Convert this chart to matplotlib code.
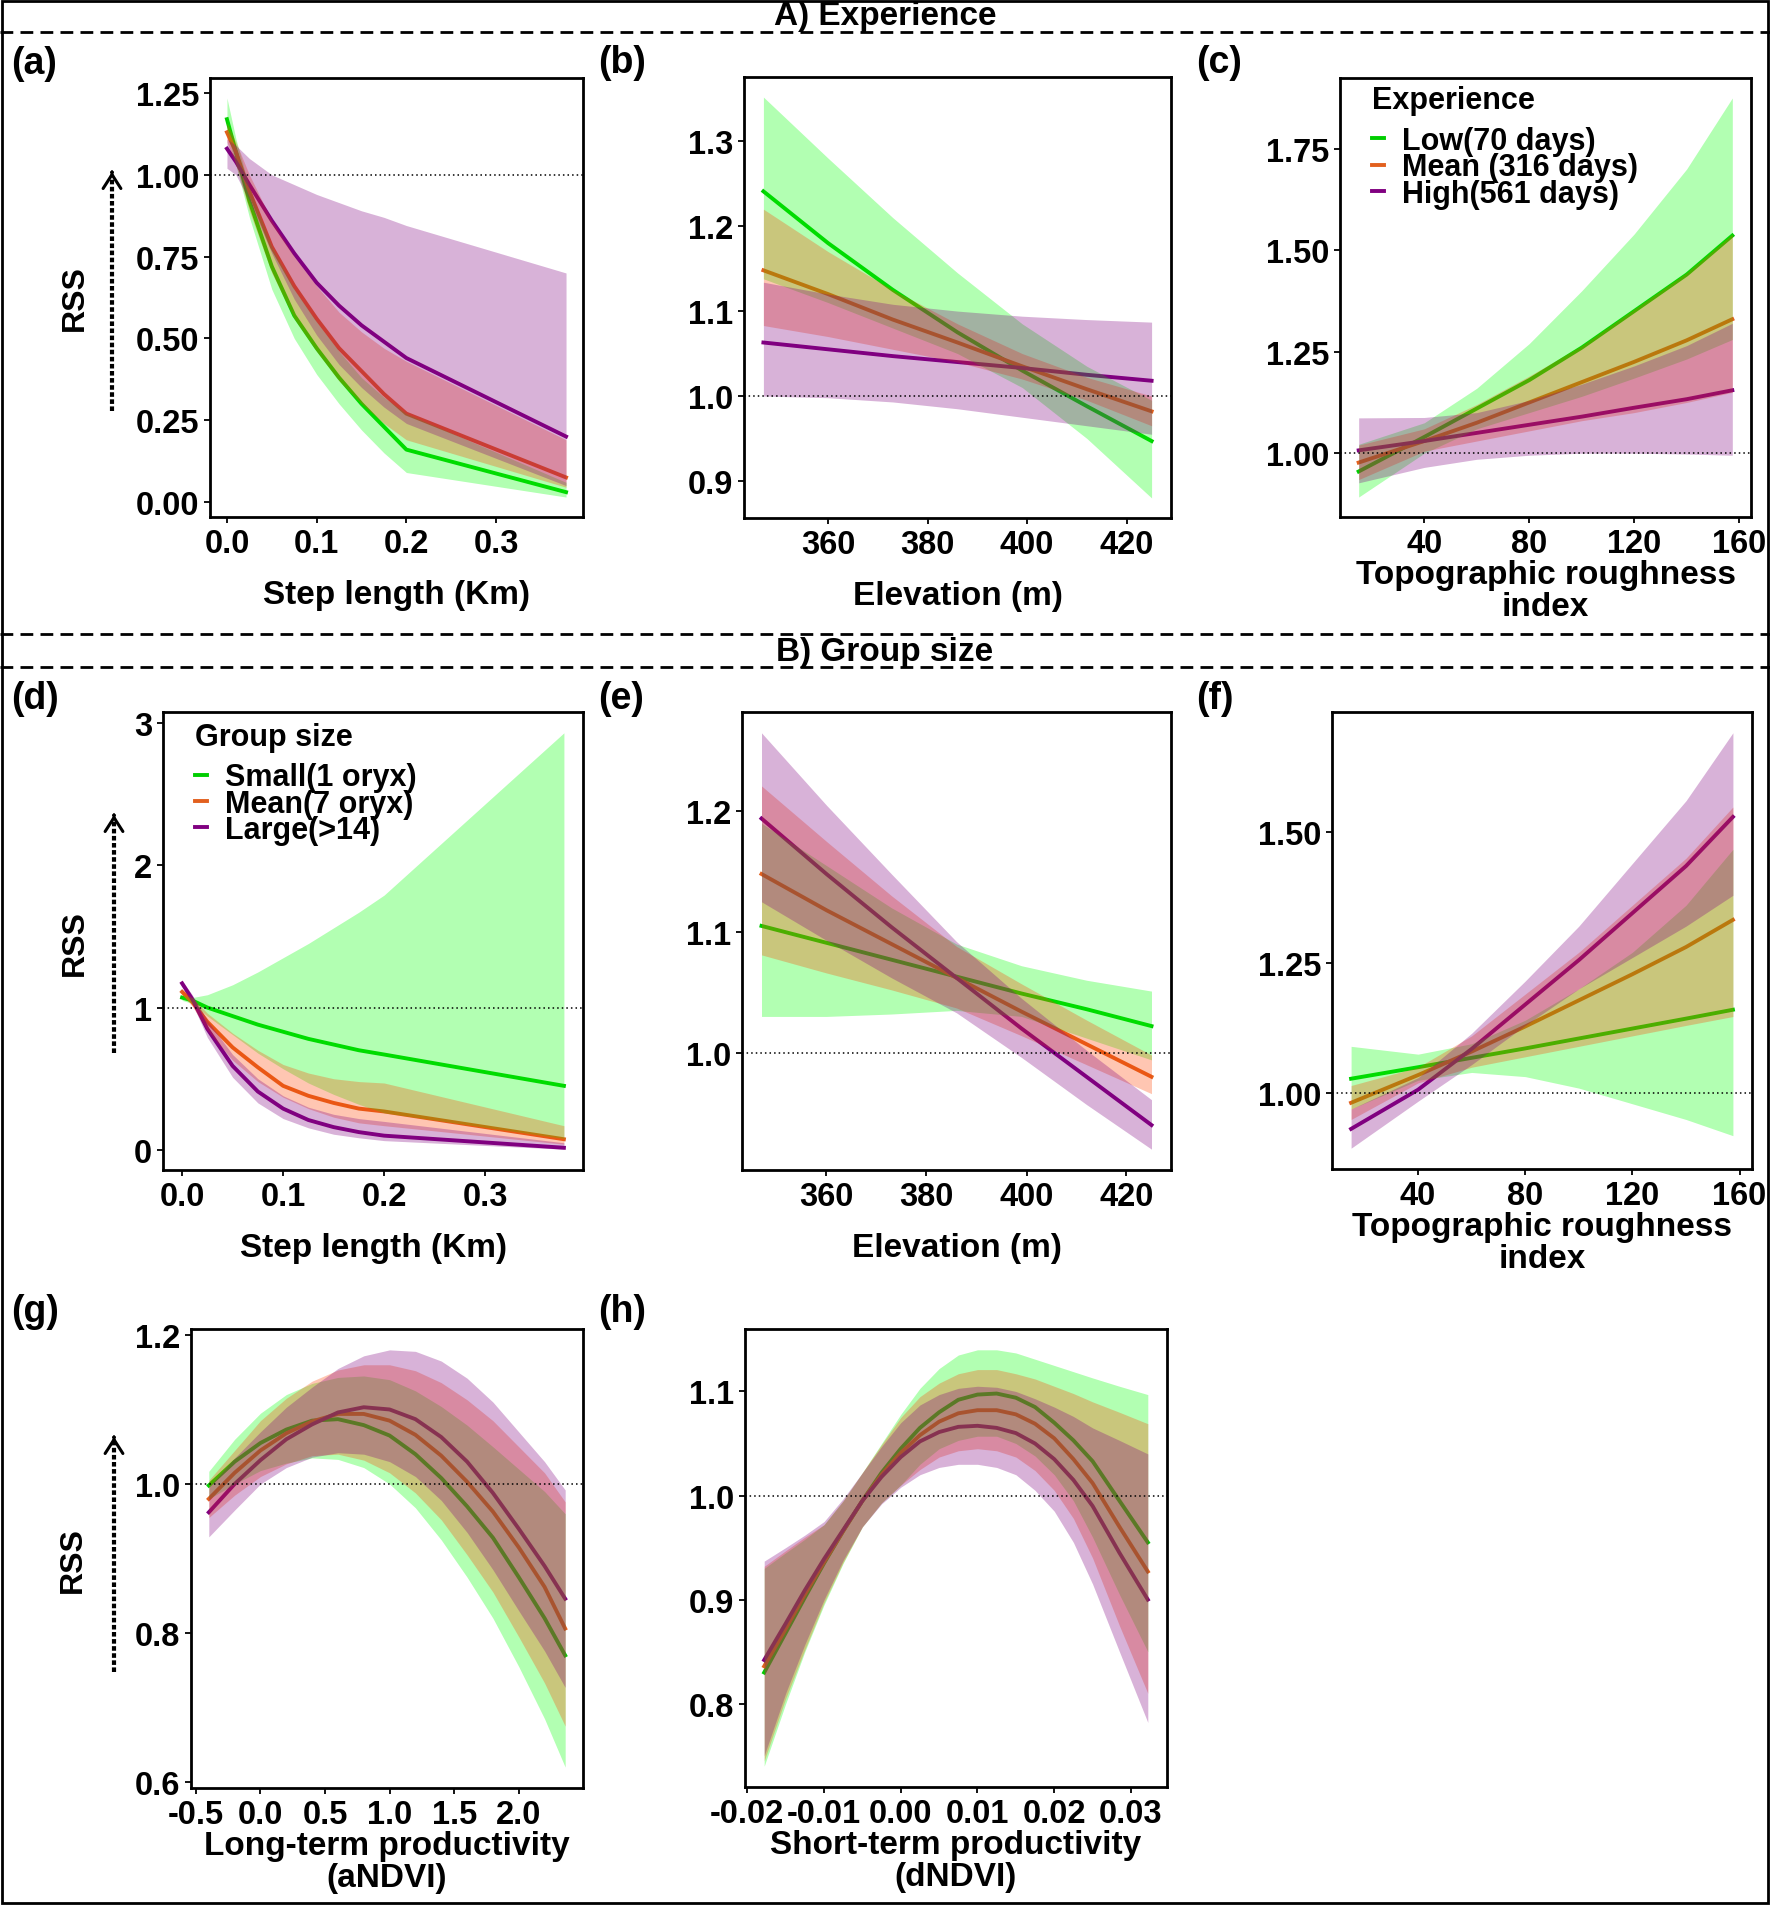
import matplotlib
matplotlib.use('Agg')
import matplotlib.pyplot as plt
from matplotlib.lines import Line2D
from matplotlib.patches import Rectangle, FancyArrowPatch
from matplotlib.ticker import FixedLocator, FormatStrFormatter

plt.rcParams['font.family'] = ['Liberation Sans', 'DejaVu Sans']
plt.rcParams['font.weight'] = 'bold'
plt.rcParams['axes.labelweight'] = 'bold'
plt.rcParams['axes.unicode_minus'] = False

W, H = 1770, 1906

line_cols = ['#00CD00', '#E2601E', '#800080']
fill_cols = ['#00FF00', '#FF4500', '#800080']
exp_labels = ['Low(70 days)', 'Mean (316 days)', 'High(561 days)']
grp_labels = ['Small(1 oryx)', 'Mean(7 oryx)', 'Large(>14)']

# (a) step length vs experience  (rows: low, mean, high)
a_x = [0, 0.01, 0.025, 0.05, 0.075, 0.1, 0.125, 0.15, 0.175, 0.2, 0.378]
a_fit = [[1.17, 1.07, 0.92, 0.72, 0.57, 0.47, 0.38, 0.30, 0.23, 0.16, 0.03],
         [1.13, 1.07, 0.95, 0.78, 0.66, 0.56, 0.47, 0.40, 0.33, 0.27, 0.075],
         [1.08, 1.04, 0.97, 0.86, 0.76, 0.67, 0.60, 0.54, 0.49, 0.44, 0.20]]
a_lo = [[1.13, 1.03, 0.87, 0.65, 0.50, 0.39, 0.30, 0.22, 0.15, 0.09, 0.015],
        [1.10, 1.03, 0.89, 0.70, 0.56, 0.46, 0.37, 0.30, 0.24, 0.19, 0.045],
        [1.02, 1.0, 0.92, 0.76, 0.62, 0.51, 0.42, 0.35, 0.29, 0.24, 0.05]]
a_hi = [[1.235, 1.11, 0.96, 0.78, 0.65, 0.55, 0.46, 0.38, 0.32, 0.27, 0.06],
        [1.16, 1.10, 1.0, 0.86, 0.75, 0.66, 0.58, 0.52, 0.47, 0.43, 0.19],
        [1.11, 1.09, 1.05, 1.0, 0.97, 0.94, 0.915, 0.89, 0.87, 0.845, 0.70]]

# (b) elevation vs experience
b_x = [347, 360, 373, 386, 399, 412, 425]
b_fit = [[1.241, 1.18, 1.125, 1.075, 1.03, 0.988, 0.947],
         [1.148, 1.12, 1.09, 1.063, 1.035, 1.008, 0.982],
         [1.063, 1.055, 1.047, 1.04, 1.033, 1.025, 1.018]]
b_lo = [[1.138, 1.11, 1.08, 1.05, 1.01, 0.95, 0.88],
        [1.083, 1.07, 1.055, 1.04, 1.02, 0.995, 0.965],
        [1.0, 0.998, 0.993, 0.985, 0.975, 0.965, 0.955]]
b_hi = [[1.352, 1.28, 1.21, 1.145, 1.085, 1.035, 0.995],
        [1.22, 1.17, 1.125, 1.085, 1.05, 1.022, 1.0],
        [1.134, 1.12, 1.108, 1.1, 1.094, 1.09, 1.087]]

# (c) roughness vs experience
c_x = [15, 40, 60, 80, 100, 120, 140, 157.4]
c_fit = [[0.955, 1.04, 1.11, 1.18, 1.26, 1.35, 1.44, 1.536],
         [0.977, 1.03, 1.075, 1.125, 1.175, 1.225, 1.278, 1.33],
         [1.007, 1.03, 1.05, 1.07, 1.09, 1.112, 1.133, 1.155]]
c_lo = [[0.892, 1.0, 1.06, 1.10, 1.14, 1.185, 1.232, 1.28],
        [0.935, 1.005, 1.03, 1.055, 1.08, 1.10, 1.125, 1.15],
        [0.927, 0.965, 0.985, 0.995, 1.0, 1.0, 0.998, 0.995]]
c_hi = [[1.022, 1.075, 1.16, 1.27, 1.40, 1.54, 1.70, 1.875],
        [1.02, 1.06, 1.12, 1.19, 1.265, 1.355, 1.445, 1.54],
        [1.087, 1.088, 1.10, 1.13, 1.17, 1.215, 1.265, 1.32]]

# (d) step length vs group size  (rows: small, mean, large)
d_x = [0, 0.01, 0.025, 0.05, 0.075, 0.1, 0.125, 0.15, 0.175, 0.2, 0.378]
d_fit = [[1.07, 1.05, 1.0, 0.94, 0.88, 0.83, 0.78, 0.74, 0.70, 0.67, 0.45],
         [1.11, 1.04, 0.90, 0.72, 0.58, 0.45, 0.38, 0.33, 0.29, 0.27, 0.075],
         [1.17, 1.06, 0.85, 0.59, 0.41, 0.29, 0.21, 0.16, 0.125, 0.10, 0.015]]
d_lo = [[1.05, 1.03, 0.94, 0.81, 0.68, 0.57, 0.47, 0.39, 0.32, 0.26, 0.08],
        [1.09, 1.01, 0.84, 0.63, 0.48, 0.37, 0.29, 0.23, 0.19, 0.17, 0.04],
        [1.15, 1.03, 0.79, 0.51, 0.33, 0.22, 0.155, 0.11, 0.085, 0.065, 0.005]]
d_hi = [[1.09, 1.07, 1.09, 1.16, 1.25, 1.35, 1.45, 1.56, 1.67, 1.79, 2.93],
        [1.13, 1.07, 0.96, 0.82, 0.70, 0.60, 0.54, 0.50, 0.48, 0.47, 0.17],
        [1.19, 1.09, 0.91, 0.67, 0.50, 0.38, 0.30, 0.25, 0.22, 0.20, 0.05]]

# (e) elevation vs group size
e_x = [347, 360, 373, 386, 399, 412, 425]
e_fit = [[1.105, 1.091, 1.077, 1.063, 1.049, 1.036, 1.022],
         [1.148, 1.118, 1.09, 1.062, 1.034, 1.007, 0.98],
         [1.194, 1.148, 1.104, 1.062, 1.02, 0.98, 0.94]]
e_lo = [[1.03, 1.03, 1.032, 1.035, 1.03, 1.012, 0.994],
        [1.081, 1.066, 1.052, 1.037, 1.014, 0.99, 0.966],
        [1.125, 1.093, 1.062, 1.033, 0.996, 0.957, 0.92]]
e_hi = [[1.19, 1.155, 1.12, 1.09, 1.072, 1.06, 1.051],
        [1.221, 1.175, 1.13, 1.088, 1.057, 1.027, 0.998],
        [1.265, 1.205, 1.148, 1.092, 1.045, 1.002, 0.961]]

# (f) roughness vs group size
f_x = [15, 40, 60, 80, 100, 120, 140, 157.5]
f_fit = [[1.028, 1.05, 1.068, 1.086, 1.105, 1.124, 1.143, 1.16],
         [0.982, 1.035, 1.08, 1.128, 1.178, 1.228, 1.28, 1.332],
         [0.932, 1.007, 1.085, 1.17, 1.255, 1.345, 1.435, 1.529]]
f_lo = [[0.97, 1.025, 1.04, 1.032, 1.01, 0.98, 0.95, 0.919],
        [0.95, 1.02, 1.05, 1.07, 1.09, 1.11, 1.13, 1.147],
        [0.895, 0.985, 1.055, 1.13, 1.20, 1.26, 1.32, 1.379]]
f_hi = [[1.09, 1.075, 1.095, 1.14, 1.2, 1.27, 1.36, 1.467],
        [1.015, 1.05, 1.11, 1.19, 1.27, 1.36, 1.45, 1.548],
        [0.97, 1.03, 1.115, 1.215, 1.32, 1.44, 1.56, 1.69]]

# (g) aNDVI vs group size
g_x = [-0.4, -0.2, 0.0, 0.2, 0.4, 0.6, 0.8, 1.0, 1.2, 1.4, 1.6, 1.8, 2.0, 2.2, 2.36]
g_fit = [[0.998, 1.03, 1.055, 1.073, 1.085, 1.087, 1.079, 1.065, 1.04, 1.008, 0.97, 0.928, 0.875, 0.82, 0.77],
         [0.98, 1.015, 1.045, 1.068, 1.084, 1.094, 1.094, 1.085, 1.066, 1.038, 1.003, 0.963, 0.915, 0.862, 0.806],
         [0.962, 1.0, 1.032, 1.06, 1.08, 1.096, 1.103, 1.1, 1.087, 1.063, 1.03, 0.988, 0.94, 0.89, 0.846]]
g_lo = [[0.98, 1.0, 1.018, 1.028, 1.035, 1.033, 1.022, 1.0, 0.968, 0.925, 0.875, 0.82, 0.755, 0.685, 0.62],
        [0.955, 0.985, 1.01, 1.027, 1.038, 1.04, 1.032, 1.015, 0.988, 0.952, 0.905, 0.855, 0.795, 0.733, 0.675],
        [0.929, 0.965, 1.0, 1.022, 1.036, 1.042, 1.04, 1.03, 1.01, 0.978, 0.935, 0.885, 0.83, 0.776, 0.727]]
g_hi = [[1.017, 1.06, 1.095, 1.12, 1.135, 1.143, 1.145, 1.14, 1.125, 1.104, 1.079, 1.05, 1.02, 0.99, 0.96],
        [1.005, 1.045, 1.085, 1.115, 1.138, 1.153, 1.16, 1.16, 1.152, 1.136, 1.113, 1.085, 1.05, 1.015, 0.976],
        [0.996, 1.035, 1.07, 1.103, 1.13, 1.155, 1.172, 1.18, 1.178, 1.165, 1.142, 1.11, 1.07, 1.03, 0.992]]

# (h) dNDVI vs group size
h_x = [-0.0178, -0.015, -0.0125, -0.01, -0.0075, -0.005, -0.0025, 0.0, 0.0025, 0.005,
       0.0075, 0.01, 0.0125, 0.015, 0.0175, 0.02, 0.0225, 0.025, 0.0285, 0.0322]
h_fit = [[0.83, 0.868, 0.902, 0.935, 0.966, 0.995, 1.022, 1.045, 1.065, 1.08,
          1.092, 1.097, 1.098, 1.094, 1.085, 1.07, 1.053, 1.033, 0.995, 0.955],
         [0.836, 0.872, 0.905, 0.936, 0.966, 0.995, 1.02, 1.041, 1.058, 1.071,
          1.079, 1.082, 1.082, 1.078, 1.069, 1.055, 1.035, 1.012, 0.97, 0.927],
         [0.842, 0.877, 0.909, 0.939, 0.967, 0.995, 1.018, 1.037, 1.052, 1.061,
          1.066, 1.067, 1.065, 1.06, 1.05, 1.035, 1.015, 0.99, 0.945, 0.90]]
h_lo = [[0.74, 0.80, 0.85, 0.895, 0.935, 0.97, 0.993, 1.01, 1.03, 1.045,
         1.053, 1.057, 1.057, 1.05, 1.038, 1.02, 0.995, 0.96, 0.905, 0.85],
        [0.745, 0.805, 0.852, 0.897, 0.936, 0.97, 0.993, 1.01, 1.025, 1.037,
         1.043, 1.045, 1.043, 1.037, 1.024, 1.005, 0.978, 0.94, 0.875, 0.81],
        [0.75, 0.81, 0.857, 0.9, 0.938, 0.97, 0.992, 1.008, 1.02, 1.027,
         1.03, 1.03, 1.027, 1.02, 1.005, 0.985, 0.955, 0.915, 0.85, 0.782]]
h_hi = [[0.93, 0.945, 0.958, 0.972, 0.995, 1.022, 1.05, 1.078, 1.103, 1.122,
         1.135, 1.14, 1.14, 1.137, 1.131, 1.125, 1.119, 1.113, 1.105, 1.097],
        [0.932, 0.947, 0.96, 0.972, 0.995, 1.022, 1.049, 1.075, 1.095, 1.108,
         1.117, 1.121, 1.121, 1.117, 1.112, 1.105, 1.098, 1.09, 1.08, 1.069],
        [0.937, 0.95, 0.962, 0.975, 0.997, 1.022, 1.047, 1.07, 1.087, 1.097,
         1.103, 1.105, 1.104, 1.1, 1.093, 1.085, 1.076, 1.065, 1.053, 1.04]]

step_ticks = [0.0, 0.1, 0.2, 0.3]
elev_ticks = [360, 380, 400, 420]
tri_ticks = [40, 80, 120, 160]
andvi_ticks = [-0.5, 0.0, 0.5, 1.0, 1.5, 2.0]
dndvi_ticks = [-0.02, -0.01, 0.0, 0.01, 0.02, 0.03]

fig = plt.figure(figsize=(W / 100, H / 100), dpi=100)


def panel(box, x, fit, lo, hi, xticks, xfmt, yticks, yfmt, xlabel, two_line):
    l, t, r, b = box
    ax = fig.add_axes([l / W, 1 - b / H, (r - l) / W, (b - t) / H])
    lines = []
    for k in range(3):
        ln, = ax.plot(x, fit[k], color=line_cols[k], lw=2.8, zorder=2)
        lines.append(ln)
    # ribbons sit on top of the lines, like the ggplot original
    for k in range(3):
        ax.fill_between(x, lo[k], hi[k], color=fill_cols[k], alpha=0.3,
                        lw=0, zorder=3)
    ax.axhline(1, color='black', ls=(0, (1, 2)), lw=1.1, zorder=4)
    ax.xaxis.set_major_locator(FixedLocator(xticks))
    ax.xaxis.set_major_formatter(FormatStrFormatter(xfmt))
    ax.yaxis.set_major_locator(FixedLocator(yticks))
    ax.yaxis.set_major_formatter(FormatStrFormatter(yfmt))
    ax.tick_params(direction='out', length=4, width=1.3, labelsize=23.5, pad=4)
    for s in ax.spines.values():
        s.set_linewidth(2)
    if two_line:
        ax.set_xlabel(xlabel, fontsize=24, labelpad=0, linespacing=1.02)
    else:
        ax.set_xlabel(xlabel, fontsize=24, labelpad=14)
    return ax, lines


def tag(x, y, s):
    fig.text(x / W, 1 - y / H, s, fontsize=27, ha='left', va='center')


def rss(x_txt, y_txt, x_arr, y0, y1):
    fig.text(x_txt / W, 1 - y_txt / H, 'RSS', rotation=90, fontsize=23,
             ha='center', va='center')
    fig.add_artist(Line2D([x_arr / W, x_arr / W], [1 - y0 / H, 1 - (y1 + 6) / H],
                          transform=fig.transFigure, color='black', lw=3,
                          ls=(0, (1.1, 0.6))))
    fig.add_artist(FancyArrowPatch((x_arr / W, 1 - (y1 + 6) / H), (x_arr / W, 1 - y1 / H),
                                   transform=fig.transFigure,
                                   arrowstyle='->,head_length=0.5,head_width=0.32',
                                   mutation_scale=20, color='black', lw=2.2))


ax_a, _ = panel((210, 79, 583, 518), a_x, a_fit, a_lo, a_hi, step_ticks, '%.1f',
                [0, 0.25, 0.5, 0.75, 1.0, 1.25], '%.2f', 'Step length (Km)', False)
ax_b, _ = panel((744, 78, 1171, 519), b_x, b_fit, b_lo, b_hi, elev_ticks, '%d',
                [0.9, 1.0, 1.1, 1.2, 1.3], '%.1f', 'Elevation (m)', False)
ax_c, c_lines = panel((1340, 79, 1751, 518), c_x, c_fit, c_lo, c_hi, tri_ticks, '%d',
                      [1.0, 1.25, 1.5, 1.75], '%.2f', 'Topographic roughness\nindex', True)
ax_d, d_lines = panel((163, 713, 583, 1171), d_x, d_fit, d_lo, d_hi, step_ticks, '%.1f',
                      [0, 1, 2, 3], '%d', 'Step length (Km)', False)
ax_e, _ = panel((742, 713, 1171, 1171), e_x, e_fit, e_lo, e_hi, elev_ticks, '%d',
                [1.0, 1.1, 1.2], '%.1f', 'Elevation (m)', False)
ax_f, _ = panel((1332, 713, 1752, 1170), f_x, f_fit, f_lo, f_hi, tri_ticks, '%d',
                [1.0, 1.25, 1.5], '%.2f', 'Topographic roughness\nindex', True)
ax_g, _ = panel((191, 1330, 583, 1789), g_x, g_fit, g_lo, g_hi, andvi_ticks, '%.1f',
                [0.6, 0.8, 1.0, 1.2], '%.1f', 'Long-term productivity\n(aNDVI)', True)
ax_h, _ = panel((745, 1330, 1167, 1788), h_x, h_fit, h_lo, h_hi, dndvi_ticks, '%.2f',
                [0.8, 0.9, 1.0, 1.1], '%.1f', 'Short-term productivity\n(dNDVI)', True)

for ax, lines, labels, title, anchor in [(ax_c, c_lines, exp_labels, 'Experience', (0.07, 0.99)),
                                         (ax_d, d_lines, grp_labels, 'Group size', (0.068, 0.985))]:
    leg = ax.legend(lines, labels, title=title, loc='upper left', bbox_to_anchor=anchor,
                    frameon=False, fontsize=22,
                    title_fontproperties={'weight': 'bold', 'size': 22},
                    handlelength=0.4, handletextpad=0.6, labelspacing=-0.12,
                    borderpad=0.1, borderaxespad=0, alignment='left')
    leg._legend_box.sep = 7.5  # extra gap between title and entries (points)

for x, y, s in [(11, 64, '(a)'), (598, 63, '(b)'), (1196, 63, '(c)'),
                (11, 699, '(d)'), (598, 699, '(e)'), (1196, 699, '(f)'),
                (11, 1312, '(g)'), (598, 1312, '(h)')]:
    tag(x, y, s)

rss(75, 298, 112, 412, 170)
rss(75, 943, 114, 1054, 813)
rss(73, 1560, 114, 1673, 1435)

for y in [33, 635, 668]:
    fig.add_artist(Line2D([0, 1], [1 - y / H, 1 - y / H], transform=fig.transFigure,
                          color='black', lw=2, ls=(0, (4.6, 2.6))))
fig.text(0.5, 1 - 17 / H, 'A) Experience', fontsize=24, ha='center', va='center')
fig.text(0.5, 1 - 652 / H, 'B) Group size', fontsize=24, ha='center', va='center')
fig.add_artist(Rectangle((0.001, 0.001), 0.998, 0.998, transform=fig.transFigure,
                         fill=False, lw=2, color='black'))

fig.savefig('out.png', dpi=100)
